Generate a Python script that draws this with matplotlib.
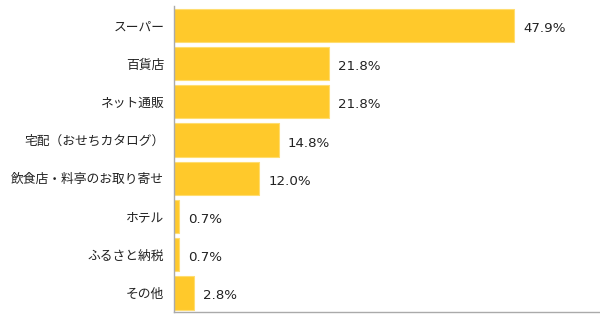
import matplotlib
matplotlib.use("Agg")
import matplotlib.pyplot as plt

plt.rcParams["font.family"] = ["Noto Sans CJK JP", "DejaVu Sans"]

categories = ["スーパー", "百貨店", "ネット通販", "宅配（おせちカタログ）",
              "飲食店・料亭のお取り寄せ", "ホテル", "ふるさと納税", "その他"]
values = [47.9, 21.8, 21.8, 14.8, 12.0, 0.7, 0.7, 2.8]


def main() -> None:
    fig = plt.figure(figsize=(6.0, 3.22), dpi=100, facecolor="white")
    ax = fig.add_axes([0.29, 0.031, 0.71, 0.95])

    ypos = list(range(len(categories)))
    ax.barh(ypos, values, height=0.87, color="#FFC92B",
            edgecolor="#FFDD70", linewidth=0.8)

    # value labels use a wider latin face
    for y, v in zip(ypos, values):
        ax.text(v + 1.25, y + 0.08, f"{v:.1f}%", va="center", ha="left",
                fontsize=9.6, color="#222222", family="DejaVu Sans")

    ax.set_xlim(0, 60)
    ax.set_ylim(len(categories) - 0.5, -0.5)
    ax.set_yticks(ypos)
    ax.set_yticklabels(categories, fontsize=9.2, color="#222222")
    ax.tick_params(axis="y", length=0, pad=7)
    ax.set_xticks([])

    for side in ("top", "right"):
        ax.spines[side].set_visible(False)
    for side in ("left", "bottom"):
        ax.spines[side].set_color("#AAAAAA")
        ax.spines[side].set_linewidth(1.0)

    fig.savefig("out.png", dpi=100, facecolor="white")
    plt.close(fig)


if __name__ == "__main__":
    main()
